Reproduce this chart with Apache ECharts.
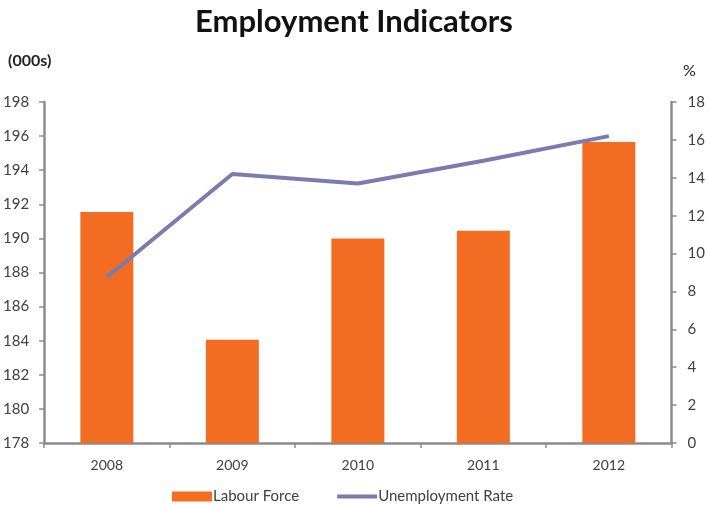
<!DOCTYPE html>
<html>
<head>
<meta charset="utf-8">
<script src="https://cdn.jsdelivr.net/npm/echarts@6/dist/echarts.min.js"></script>
<style>
  html, body { margin: 0; padding: 0; background: #fff; }
  #chart { width: 708px; height: 505px; }
</style>
</head>
<body>
<div id="chart"></div>
<script>
// Labour force (thousands) and unemployment rate (%) by year
const years = ['2008', '2009', '2010', '2011', '2012'];
const labourForce = [191.55, 184.05, 190.0, 190.45, 195.65];
const unemploymentRate = [8.75, 14.2, 13.7, 14.9, 16.2];

const FONT = 'Lato, "DejaVu Sans", sans-serif';
const axisGrey = '#8c8c8c';
const textGrey = '#404040';

const chart = echarts.init(document.getElementById('chart'));
chart.setOption({
  animation: false,
  backgroundColor: '#ffffff',
  title: {
    text: 'Employment Indicators',
    left: 'center',
    top: 1,
    textStyle: { fontFamily: FONT, fontWeight: 'bold', fontSize: 31, color: '#111' }
  },
  graphic: [
    { type: 'text', left: 8, top: 53, style: { text: '(000s)', font: 'bold 16px ' + FONT, fill: '#222' } },
    { type: 'text', left: 683, top: 63, style: { text: '%', font: '16px ' + FONT, fill: '#222' } }
  ],
  legend: {
    left: 167,
    top: 484,
    itemWidth: 40,
    itemHeight: 10,
    itemGap: 38,
    textStyle: { fontFamily: FONT, fontSize: 15, color: textGrey, padding: [0, 0, 0, -4] },
    data: [
      { name: 'Labour Force', icon: 'rect' },
      { name: 'Unemployment Rate', icon: 'path://M0,0 L40,0 L40,4 L0,4 Z' }
    ]
  },
  grid: { left: 42, right: 33, top: 102, bottom: 62, containLabel: false },
  xAxis: {
    type: 'category',
    data: years,
    axisLine: { lineStyle: { color: axisGrey, width: 2.5 } },
    axisTick: { show: true, length: 5, lineStyle: { color: axisGrey, width: 1.5 } },
    axisLabel: { fontFamily: FONT, fontSize: 14, color: textGrey, margin: 15 }
  },
  yAxis: [
    {
      type: 'value',
      min: 178, max: 198, interval: 2,
      position: 'left',
      splitLine: { show: false },
      axisLine: { show: true, lineStyle: { color: axisGrey, width: 2.5 } },
      axisTick: { show: true, length: 5, lineStyle: { color: axisGrey, width: 1.5 } },
      axisLabel: { fontFamily: FONT, fontSize: 15, color: textGrey, margin: 15 }
    },
    {
      type: 'value',
      min: 0, max: 18, interval: 2,
      position: 'right',
      splitLine: { show: false },
      axisLine: { show: true, lineStyle: { color: axisGrey, width: 2.5 } },
      axisTick: { show: true, length: 5, lineStyle: { color: axisGrey, width: 1.5 } },
      axisLabel: { fontFamily: FONT, fontSize: 15, color: textGrey, margin: 16 }
    }
  ],
  series: [
    {
      name: 'Labour Force',
      type: 'bar',
      yAxisIndex: 0,
      data: labourForce,
      barWidth: 53,
      itemStyle: { color: '#f26c21' }
    },
    {
      name: 'Unemployment Rate',
      type: 'line',
      yAxisIndex: 1,
      data: unemploymentRate,
      symbol: 'none',
      itemStyle: { color: '#7b7bb0' },
      lineStyle: { color: '#7b7bb0', width: 4 }
    }
  ]
});
</script>
</body>
</html>
